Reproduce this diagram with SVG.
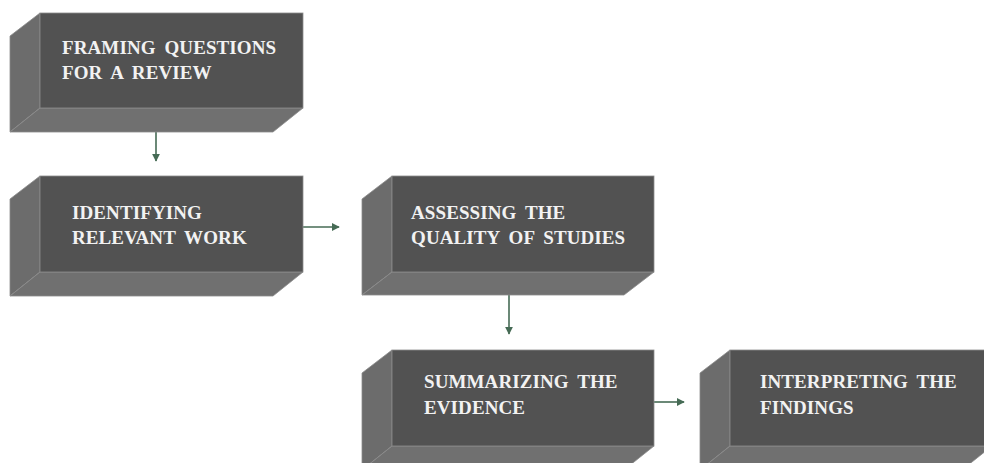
<svg xmlns="http://www.w3.org/2000/svg" width="984" height="463" viewBox="0 0 984 463">
<defs>
<style>
.front{fill:#525252;stroke:#8c8c8c;stroke-width:0.8}
.side{fill:#6c6c6c;stroke:#8c8c8c;stroke-width:0.8}
.bottom{fill:#707070;stroke:#8c8c8c;stroke-width:0.8}
.lbl{font-family:"Liberation Serif","DejaVu Serif",serif;font-weight:bold;font-size:19px;fill:#f2f2f2;letter-spacing:0.1px;word-spacing:4px}
.conn{stroke:#466b55;stroke-width:1.6;fill:none;marker-end:url(#ah)}
</style>
<marker id="ah" viewBox="0 0 10 10" refX="9" refY="5" markerWidth="5" markerHeight="5" orient="auto" markerUnits="strokeWidth">
<path d="M0,0 L10,5 L0,10 Z" fill="#466b55"/>
</marker>
</defs>
<rect width="984" height="463" fill="#ffffff"/>
<g id="connectors">
<path class="conn" d="M156,108 V161"/>
<path class="conn" d="M303,227 H339"/>
<path class="conn" d="M509,272 V334"/>
<path class="conn" d="M654,402 H684"/>
</g>
<g id="n1">
<polygon class="side" points="40,13 10,36 10,132 40,108"/>
<polygon class="bottom" points="40,108 303,108 273,132 10,132"/>
<rect class="front" x="40" y="13" width="263" height="95"/>
<text class="lbl" x="62" y="54">FRAMING QUESTIONS</text>
<text class="lbl" x="62" y="79">FOR A REVIEW</text>
</g>
<g id="n2">
<polygon class="side" points="40,176 10,199 10,296 40,272"/>
<polygon class="bottom" points="40,272 303,272 273,296 10,296"/>
<rect class="front" x="40" y="176" width="263" height="96"/>
<text class="lbl" x="72" y="219">IDENTIFYING</text>
<text class="lbl" x="72" y="244">RELEVANT WORK</text>
</g>
<g id="n3">
<polygon class="side" points="392,176 362,199 362,295 392,272"/>
<polygon class="bottom" points="392,272 654,272 624,295 362,295"/>
<rect class="front" x="392" y="176" width="262" height="96"/>
<text class="lbl" x="411" y="219">ASSESSING THE</text>
<text class="lbl" x="411" y="244">QUALITY OF STUDIES</text>
</g>
<g id="n4">
<polygon class="side" points="392,350 362,373 362,470 392,446"/>
<polygon class="bottom" points="392,446 654,446 624,470 362,470"/>
<rect class="front" x="392" y="350" width="262" height="96"/>
<text class="lbl" x="424" y="388">SUMMARIZING THE</text>
<text class="lbl" x="424" y="414">EVIDENCE</text>
</g>
<g id="n5">
<polygon class="side" points="730,350 700,373 700,470 730,446"/>
<polygon class="bottom" points="730,446 992,446 962,470 700,470"/>
<rect class="front" x="730" y="350" width="262" height="96"/>
<text class="lbl" x="760" y="388">INTERPRETING THE</text>
<text class="lbl" x="760" y="414">FINDINGS</text>
</g>
</svg>
